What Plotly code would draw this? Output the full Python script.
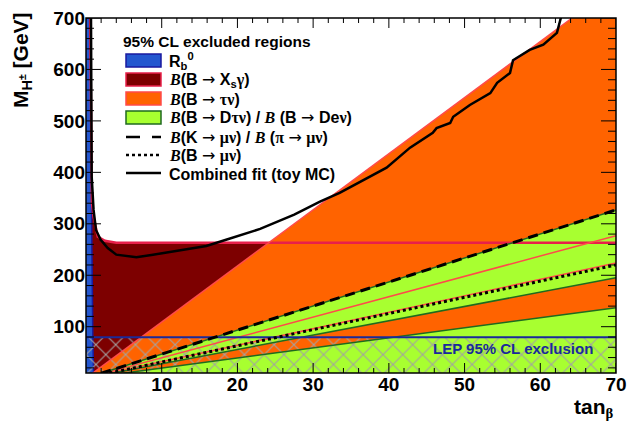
import plotly.graph_objects as go

# ---------------- data ----------------
# R_b exclusion boundary (tan beta, mass)
rb_tanb = [1.0, 0.9, 0.78, 0.68, 0.6]
rb_mass = [10, 80, 200, 400, 700]

# B -> Xs gamma exclusion boundary
xsg_tanb = [0.55, 0.7, 0.78, 1.0, 1.55, 2.5, 4.0, 70]
xsg_mass = [700, 400, 341, 314, 275, 267, 263, 263]

# B -> tau nu : boundary lines from the origin to their end points
taunu_upper_end = [64.2, 700]
taunu_band_hi_end = [70, 277]
taunu_band_lo_end = [70, 224]

# B -> D tau nu / B -> D e nu boundary lines
dtaunu_band_hi_end = [70, 327]
dtaunu_band_lo_end = [70, 195]
dtaunu_low_end = [70, 137]

# K -> mu nu / pi -> mu nu (dashed) and B -> mu nu (dotted)
kmunu_end = [70, 327]
bmunu_end = [70, 220]

# LEP direct limit
lep_mass = 79.3

# combined fit (toy MC)
fit_tanb = [0.66, 0.72, 0.75, 1.0, 1.32, 1.94, 2.87, 4.0, 6.66, 8.85, 11.95, 15.9,
            18.5, 23.0, 27.5, 30.9, 33.5, 37.1, 39.7, 42.8, 45.8, 46.3, 48.1, 48.5,
            50.7, 53.4, 54.3, 56.0, 56.4, 58.6, 60.4, 62.2, 62.6, 62.8]
fit_mass = [700, 520, 392, 327, 288, 269, 253, 240, 235, 240, 248, 257,
            269, 290, 318, 343, 360, 389, 409, 448, 477, 486, 496, 508,
            531, 554, 574, 593, 618, 638, 648, 671, 696, 705]

x_ticks = [10, 20, 30, 40, 50, 60, 70]
y_ticks = [100, 200, 300, 400, 500, 600, 700]
x_minor_step = 2
y_minor_step = 20
x_range = [0, 70]
y_range = [10, 700]

# ---------------- colours ----------------
C_RB, C_RB_L = "#2457cf", "#1a1aa0"
C_XSG, C_XSG_L = "#7d0000", "#e8204a"
C_TAU, C_TAU_L = "#ff6300", "#ff4a4a"
C_DTAU, C_DTAU_L = "#a8ff30", "#1f6a1f"
C_LEP = "#1a2a9a"

fig = go.Figure()


def poly(xs, ys, color, lc=None, lw=0):
    fig.add_trace(go.Scatter(x=xs, y=ys, mode="lines", fill="toself",
                             fillcolor=color,
                             line=dict(width=lw, color=lc or color),
                             hoverinfo="skip", showlegend=False))


def line(xs, ys, color, width=1.5, dash="solid"):
    fig.add_trace(go.Scatter(x=xs, y=ys, mode="lines",
                             line=dict(color=color, width=width, dash=dash),
                             hoverinfo="skip", showlegend=False))


x0, x1 = x_range
ybot = 0

# B -> Xs gamma
poly([x0] + xsg_tanb + [x1, x0], [xsg_mass[0]] + xsg_mass + [ybot, ybot], C_XSG)

# B -> tau nu (wedge above the allowed band and region below it)
poly([0, taunu_upper_end[0], x1, taunu_band_hi_end[0], 0],
     [0, taunu_upper_end[1], y_range[1], taunu_band_hi_end[1], 0], C_TAU)
poly([0, taunu_band_lo_end[0], x1, 0], [0, taunu_band_lo_end[1], ybot, 0], C_TAU)

# B -> D tau nu
poly([0, dtaunu_band_hi_end[0], dtaunu_band_lo_end[0], 0],
     [0, dtaunu_band_hi_end[1], dtaunu_band_lo_end[1], 0], C_DTAU)
poly([0, dtaunu_low_end[0], x1, 0], [0, dtaunu_low_end[1], ybot, 0], C_DTAU)

# R_b
poly([x0] + rb_tanb + [x0], [ybot] + rb_mass + [rb_mass[-1]], C_RB, C_RB_L, 1.5)

# LEP hatch
fig.add_trace(go.Scatter(x=[x0, x1, x1, x0, x0], y=[ybot, ybot, lep_mass, lep_mass, ybot],
                         mode="lines", fill="toself", fillcolor="rgba(0,0,0,0)",
                         fillpattern=dict(shape="x", fgcolor="#a2a2a2",
                                          bgcolor="rgba(0,0,0,0)", size=14, solidity=0.15),
                         line=dict(width=0), hoverinfo="skip", showlegend=False))

# outlines
line(xsg_tanb, xsg_mass, C_XSG_L, 2.5)
for e in (taunu_upper_end, taunu_band_hi_end, taunu_band_lo_end):
    line([0, e[0]], [0, e[1]], C_TAU_L, 1.5)
for e in (dtaunu_band_hi_end, dtaunu_band_lo_end, dtaunu_low_end):
    line([0, e[0]], [0, e[1]], C_DTAU_L, 1.5)
line([x0, x1], [lep_mass, lep_mass], C_LEP, 2)

line([0, kmunu_end[0]], [0, kmunu_end[1]], "black", 3, "10px,6px")
line([0, bmunu_end[0]], [0, bmunu_end[1]], "black", 3, "3px,3px")
line(fit_tanb, fit_mass, "black", 2.5)

# ---------------- layout ----------------
W, H = 629, 428
L, R, T, B = 86, 13, 18, 55
PW, PH = W - L - R, H - T - B


def px(p):
    return (p - L) / PW


def py(p):
    return (H - B - p) / PH


FONT = "Liberation Sans"
SERIF = "Liberation Serif"


def ser(s):
    return f'<span style="font-family:{SERIF}">{s}</span>'


def bi():
    return f'<span style="font-family:{SERIF}"><i>B</i></span>'


shapes = []
annotations = []

# frame and tick marks (inside, on all four sides) drawn above the data
TK = dict(color="black", width=1)
x_minor = [v for v in range(x_range[0] + x_minor_step, x_range[1], x_minor_step)
           if v not in x_ticks]
y_minor = [v for v in range(y_minor_step, y_range[1], y_minor_step)
           if v not in y_ticks and v > y_range[0]]
for v, ln in [(t, 10) for t in x_ticks] + [(t, 5) for t in x_minor]:
    shapes.append(dict(type="line", xref="x", yref="paper", x0=v, x1=v, y0=0, y1=ln / PH,
                       line=TK, layer="above"))
    shapes.append(dict(type="line", xref="x", yref="paper", x0=v, x1=v, y0=1, y1=1 - ln / PH,
                       line=TK, layer="above"))
for v, ln in [(t, 15) for t in y_ticks] + [(t, 8) for t in y_minor]:
    shapes.append(dict(type="line", xref="paper", yref="y", y0=v, y1=v, x0=0, x1=ln / PW,
                       line=TK, layer="above"))
    shapes.append(dict(type="line", xref="paper", yref="y", y0=v, y1=v, x0=1, x1=1 - ln / PW,
                       line=TK, layer="above"))
shapes.append(dict(type="rect", xref="paper", yref="paper", x0=0, x1=1, y0=0, y1=1,
                   line=dict(color="black", width=1.5), fillcolor="rgba(0,0,0,0)",
                   layer="above"))

# legend title
annotations.append(dict(x=px(121), y=py(41), xref="paper", yref="paper",
                        text="95% CL excluded regions", showarrow=False,
                        xanchor="left", yanchor="middle",
                        font=dict(family=FONT, size=15.5, color="black", weight="bold")))

boxes = [(C_RB, C_RB_L, 54, 67), (C_XSG, C_XSG_L, 73, 86),
         (C_TAU, C_TAU_L, 92, 105), (C_DTAU, C_DTAU_L, 111, 124)]
for fc, lc, ya, yb in boxes:
    shapes.append(dict(type="rect", xref="paper", yref="paper",
                       x0=px(126), x1=px(161), y0=py(yb), y1=py(ya),
                       fillcolor=fc, line=dict(color=lc, width=1.5)))
shapes.append(dict(type="line", xref="paper", yref="paper", x0=px(126), x1=px(161),
                   y0=py(137), y1=py(137), line=dict(color="black", width=2.5, dash="14px,12px")))
shapes.append(dict(type="line", xref="paper", yref="paper", x0=px(126), x1=px(161),
                   y0=py(155), y1=py(155), line=dict(color="black", width=2.5, dash="3px,3px")))
shapes.append(dict(type="line", xref="paper", yref="paper", x0=px(126), x1=px(161),
                   y0=py(173), y1=py(173), line=dict(color="black", width=2.5)))

arrow = '<span style="font-family:DejaVu Sans;font-weight:normal">→</span>'
labels = [
    (61, "R<sub>b</sub><sup>0</sup>"),
    (80, f"{bi()}(B {arrow} X<sub>s</sub>{ser('γ')})"),
    (99, f"{bi()}(B {arrow} {ser('τν')})"),
    (118, f"{bi()}(B {arrow} D{ser('τν')}) / {bi()} (B {arrow} De{ser('ν')})"),
    (137, f"{bi()}(K {arrow} {ser('μν')}) / {bi()} ({ser('π')} {arrow} {ser('μν')})"),
    (155, f"{bi()}(B {arrow} {ser('μν')})"),
    (174, "Combined fit (toy MC)"),
]
for yy, t in labels:
    annotations.append(dict(x=px(167), y=py(yy), xref="paper", yref="paper", text=t,
                            showarrow=False, xanchor="left", yanchor="middle",
                            font=dict(family=FONT, size=16, color="black", weight="bold")))

# LEP label
annotations.append(dict(x=px(595), y=py(348), xref="paper", yref="paper",
                        text="LEP 95% CL exclusion", showarrow=False,
                        xanchor="right", yanchor="middle",
                        font=dict(family=FONT, size=15, color=C_LEP, weight="bold")))

# axis titles
annotations.append(dict(x=px(22), y=py(10), xref="paper", yref="paper",
                        text="M<sub>H<sup>±</sup></sub> [GeV]", showarrow=False,
                        textangle=-90, xanchor="center", yanchor="top",
                        font=dict(family=FONT, size=21, color="black", weight="bold")))
annotations.append(dict(x=px(616), y=py(408), xref="paper", yref="paper",
                        text=f"tan<sub>{ser('β')}</sub>", showarrow=False,
                        xanchor="right", yanchor="middle",
                        font=dict(family=FONT, size=21, color="black", weight="bold")))

axis_common = dict(showline=False, ticks="", showgrid=False, zeroline=False,
                   tickfont=dict(family=FONT, size=19, color="black", weight="bold"))

fig.update_layout(
    template="none",
    width=W, height=H,
    margin=dict(l=L, r=R, t=T, b=B, pad=0, autoexpand=False),
    paper_bgcolor="white", plot_bgcolor="white",
    showlegend=False,
    shapes=shapes, annotations=annotations,
    xaxis=dict(range=x_range, tickmode="array", tickvals=x_ticks, ticklabelstandoff=-2,
               **axis_common),
    yaxis=dict(range=y_range, tickmode="array", tickvals=y_ticks, **axis_common),
)

fig.write_html("out.html", config={"displayModeBar": False},
               post_script="document.body.style.margin='0px';")
